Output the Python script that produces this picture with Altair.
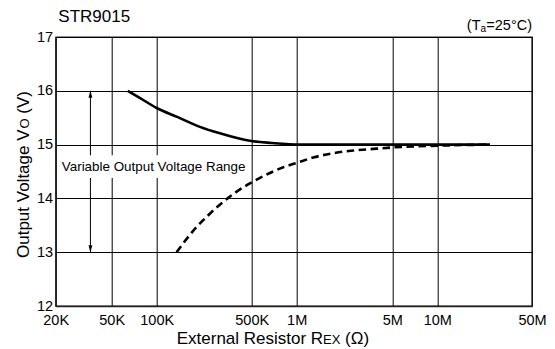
import altair as alt
import pandas as pd

FONT = "Liberation Sans"

# ---- axes -------------------------------------------------------------
x_ticks = [20e3, 50e3, 100e3, 500e3, 1e6, 5e6, 10e6, 50e6]
x_tick_labels = ["20K", "50K", "100K", "500K", "1M", "5M", "10M", "50M"]
# the original grid is hand drawn: decades are not perfectly even
x_tick_pixels = [0, 56, 101, 196, 241, 336.6, 381.6, 476.3]
y_ticks = [12, 13, 14, 15, 16, 17]

# ---- curves ------------------------------------------------------------
upper_r = [64e3, 77e3, 100e3, 143e3, 208e3, 292e3, 485e3, 681e3, 1.06e6, 3e6, 10e6, 24.5e6]
upper_v = [16.0, 15.87, 15.68, 15.51, 15.33, 15.21, 15.07, 15.03, 15.0, 15.0, 15.0, 15.0]

lower_r = [140e3, 186e3, 247e3, 336e3, 485e3, 568e3, 814e3, 1e6, 1.32e6, 1.85e6,
           2.59e6, 3.63e6, 5.2e6, 10e6, 24.5e6]
lower_v = [13.0, 13.40, 13.72, 14.01, 14.28, 14.38, 14.58, 14.66, 14.76, 14.84,
           14.89, 14.92, 14.95, 14.98, 15.0]

# ---- annotation -------------------------------------------------------
arrow_r = [35.3e3]
arrow_hi = [16.0]
arrow_lo = [13.0]
label_text = ["Variable Output Voltage Range"]
label_r = [22.1e3]
label_v = [14.58]
box_r = [21.1e3, 477e3]
box_v = [14.38, 14.8]

upper = pd.DataFrame({"r": upper_r, "v": upper_v})
lower = pd.DataFrame({"r": lower_r, "v": lower_v})

label_expr = " : ".join(
    f"round(datum.value) == {int(v)} ? '{t}'" for v, t in zip(x_ticks, x_tick_labels)
) + " : ''"

xscale = alt.Scale(type="log", domain=x_ticks, range=x_tick_pixels, nice=False)
yscale = alt.Scale(domain=[12, 17], nice=False, zero=False)

X = alt.X("r:Q", scale=xscale,
          axis=alt.Axis(values=x_ticks, labelExpr=label_expr, grid=True, ticks=False,
                        gridColor="#000", gridWidth=1, gridOpacity=1,
                        domainColor="#222", domainWidth=1.5,
                        labelFont=FONT, labelFontSize=14.5, labelColor="#000",
                        labelPadding=7, labelFlush=False, labelOverlap=False, title=None))
Y = alt.Y("v:Q", scale=yscale,
          axis=alt.Axis(values=y_ticks, grid=True, ticks=False,
                        gridColor="#000", gridWidth=1, gridOpacity=1,
                        domainColor="#222", domainWidth=1.5,
                        labelFont=FONT, labelFontSize=14.5, labelColor="#000",
                        labelPadding=3, labelFlush=False, title=None))

upper_line = alt.Chart(upper).mark_line(color="#000", strokeWidth=2.6,
                                        interpolate="monotone").encode(x=X, y=Y)
lower_line = alt.Chart(lower).mark_line(color="#000", strokeWidth=2.6, strokeDash=[7.5, 4.5],
                                        interpolate="monotone").encode(x="r:Q", y="v:Q")

arrow_df = pd.DataFrame({"r": arrow_r, "hi": arrow_hi, "lo": arrow_lo})
arrow_rule = alt.Chart(arrow_df).mark_rule(color="#000", strokeWidth=1).encode(
    x="r:Q", y="hi:Q", y2="lo:Q")
head_up = alt.Chart(arrow_df).mark_point(
    shape="M0,0L-0.55,2L0.55,2Z", filled=True, color="#000", size=49, opacity=1
).encode(x="r:Q", y="hi:Q")
head_down = alt.Chart(arrow_df).mark_point(
    shape="M0,0L-0.55,-2L0.55,-2Z", filled=True, color="#000", size=49, opacity=1
).encode(x="r:Q", y="lo:Q")

box_df = pd.DataFrame({"r1": [box_r[0]], "r2": [box_r[1]], "v1": [box_v[0]], "v2": [box_v[1]]})
box = alt.Chart(box_df).mark_rect(fill="white").encode(
    x="r1:Q", x2="r2:Q", y="v1:Q", y2="v2:Q")

label_df = pd.DataFrame({"r": label_r, "v": label_v, "t": label_text})
label = alt.Chart(label_df).mark_text(
    font=FONT, fontSize=13.4, align="left", baseline="middle", color="#000"
).encode(x="r:Q", y="v:Q", text="t:N")


def txt(text, r, v, size, align="left", dx=0, dy=0, angle=0):
    df = pd.DataFrame({"r": [r], "v": [v], "t": [text]})
    kw = dict(font=FONT, fontSize=size, align=align, baseline="alphabetic",
              color="#000", dx=dx, dy=dy)
    if angle:
        kw["angle"] = angle
    return alt.Chart(df).mark_text(**kw).encode(x="r:Q", y="v:Q", text="t:N")


x_left, x_right = x_ticks[0], x_ticks[-1]
y_bottom, y_top = y_ticks[0], y_ticks[-1]

texts = [
    txt("STR9015", x_left, y_top, 17, dx=2.6, dy=-15.3),
    txt("(T", x_right, y_top, 14.5, align="right", dx=-51.5, dy=-7),
    txt("a", x_right, y_top, 10, align="right", dx=-46, dy=-5),
    txt("=25°C)", x_right, y_top, 14.5, align="right", dx=0, dy=-7),
    # x axis title
    txt("External Resistor R", x_left, y_bottom, 17, dx=121, dy=38),
    txt("EX", x_left, y_bottom, 13, dx=267.4, dy=38),
    txt("(Ω)", x_left, y_bottom, 17, dx=289.4, dy=38),
    # y axis title (rotated)
    txt("Output Voltage V", x_left, y_bottom, 17, dx=48, dy=-26.7, angle=270),
    txt("O", x_left, y_bottom, 13, dx=177.5, dy=-26.7, angle=270),
    txt("(V)", x_left, y_bottom, 17, dx=192.3, dy=-26.7, angle=270),
]

chart = alt.layer(
    upper_line, lower_line, arrow_rule, head_up, head_down, box, label, *texts
).properties(
    width=476.3, height=269,
    autosize=alt.AutoSizeParams(type="none"),
    padding={"left": 47.7, "top": 29, "right": 15, "bottom": 42},
    background="white",
).configure_view(stroke="#222", strokeWidth=1.3)

chart.save("out.html", embed_options={"renderer": "svg", "actions": False})
